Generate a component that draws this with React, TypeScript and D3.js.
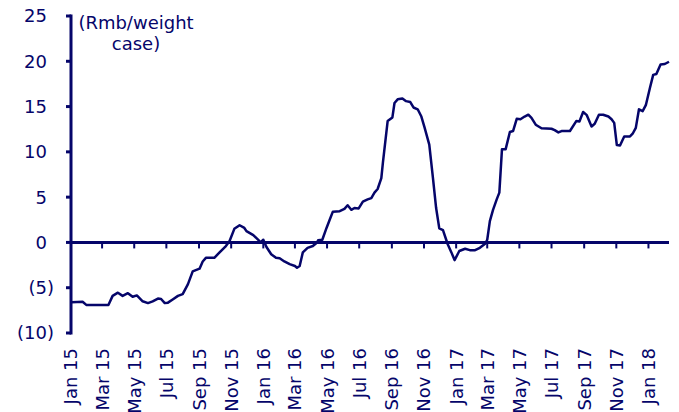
import React, { useEffect, useRef } from "react";
import * as d3 from "d3";

// weekly-ish observations, Rmb per weight case
const dates = [
  "2015-01-02", "2015-01-23", "2015-01-30", "2015-03-13", "2015-03-21", "2015-03-31",
  "2015-04-09", "2015-04-19", "2015-04-28", "2015-05-06", "2015-05-17", "2015-05-27",
  "2015-06-05", "2015-06-15", "2015-06-21", "2015-06-28", "2015-07-04", "2015-07-13",
  "2015-07-23", "2015-08-01", "2015-08-11", "2015-08-20", "2015-09-02", "2015-09-08",
  "2015-09-14", "2015-09-30", "2015-10-10", "2015-10-22", "2015-10-29", "2015-11-07",
  "2015-11-17", "2015-11-26", "2015-11-30", "2015-12-13", "2015-12-22", "2015-12-27",
  "2016-01-01", "2016-01-07", "2016-01-16", "2016-01-25", "2016-02-01", "2016-02-10",
  "2016-02-20", "2016-03-01", "2016-03-05", "2016-03-10", "2016-03-16", "2016-03-25",
  "2016-04-04", "2016-04-12", "2016-04-14", "2016-04-22", "2016-04-30", "2016-05-06",
  "2016-05-12", "2016-05-25", "2016-06-03", "2016-06-09", "2016-06-16", "2016-06-22",
  "2016-06-30", "2016-07-08", "2016-07-17", "2016-07-24", "2016-07-30", "2016-08-05",
  "2016-08-12", "2016-08-15", "2016-08-24", "2016-09-02", "2016-09-06", "2016-09-12",
  "2016-09-21", "2016-09-28", "2016-10-06", "2016-10-12", "2016-10-20", "2016-10-27",
  "2016-11-02", "2016-11-11", "2016-11-18", "2016-11-24", "2016-11-30", "2016-12-07",
  "2016-12-16", "2016-12-23", "2016-12-29", "2017-01-07", "2017-01-18", "2017-01-27",
  "2017-02-06", "2017-02-15", "2017-02-25", "2017-03-01", "2017-03-06", "2017-03-12",
  "2017-03-19", "2017-03-24", "2017-03-29", "2017-04-05", "2017-04-13", "2017-04-19",
  "2017-04-26", "2017-05-03", "2017-05-11", "2017-05-18", "2017-05-24", "2017-06-01",
  "2017-06-12", "2017-07-01", "2017-07-07", "2017-07-14", "2017-07-20", "2017-08-05",
  "2017-08-17", "2017-08-23", "2017-08-30", "2017-09-06", "2017-09-15", "2017-09-21",
  "2017-09-29", "2017-10-07", "2017-10-17", "2017-10-23", "2017-10-28", "2017-11-02",
  "2017-11-08", "2017-11-16", "2017-11-27", "2017-12-02", "2017-12-08", "2017-12-14",
  "2017-12-21", "2017-12-27", "2018-01-04", "2018-01-10", "2018-01-16", "2018-01-24",
  "2018-02-01", "2018-02-09",
];

const values = [
  -6.6, -6.55, -6.9, -6.9, -5.9, -5.55,
  -5.9, -5.6, -6.0, -5.85, -6.5, -6.7,
  -6.5, -6.2, -6.25, -6.7, -6.65, -6.3,
  -5.9, -5.7, -4.6, -3.2, -2.9, -2.1,
  -1.7, -1.7, -1.1, -0.4, 0.15, 1.5,
  1.9, 1.6, 1.25, 0.8, 0.3, 0.0,
  0.3, -0.5, -1.3, -1.7, -1.75, -2.1,
  -2.4, -2.6, -2.8, -2.6, -1.1, -0.6,
  -0.4, 0.0, 0.25, 0.3, 1.6, 2.5,
  3.4, 3.45, 3.7, 4.1, 3.6, 3.8,
  3.75, 4.5, 4.75, 4.9, 5.5, 5.9,
  7.1, 8.8, 13.4, 13.8, 15.4, 15.8,
  15.9, 15.6, 15.5, 14.9, 14.7, 13.9,
  12.7, 10.8, 7.1, 3.8, 1.55, 1.35,
  -0.2, -1.1, -1.95, -0.95, -0.7, -0.85,
  -0.85, -0.6, -0.15, 0.3, 2.35, 3.6,
  4.75, 5.5, 10.3, 10.3, 12.2, 12.3,
  13.65, 13.6, 13.9, 14.1, 13.75, 13.0,
  12.6, 12.55, 12.4, 12.15, 12.3, 12.3,
  13.4, 13.35, 14.4, 14.05, 12.8, 13.1,
  14.1, 14.1, 13.9, 13.6, 13.2, 10.75,
  10.7, 11.7, 11.7, 12.0, 12.65, 14.7,
  14.5, 15.15, 17.1, 18.5, 18.6, 19.65,
  19.7, 19.95,
];

const yTicks = [-10, -5, 0, 5, 10, 15, 20, 25];
const unitLabel = ["(Rmb/weight", "case)"];
const xStart = "2015-01-01";

const App = () => {
  const chartRef = useRef<SVGSVGElement | null>(null);

  useEffect(() => {
    drawChart();
  }, []);

  const drawChart = () => {
    const width = 679;
    const height = 412;
    const color = "#05056a";
    const font = "'DejaVu Sans', Verdana, sans-serif";
    const parseDate = d3.timeParse("%Y-%m-%d");

    const data = dates.map((d, i) => ({ date: parseDate(d) as Date, value: values[i] }));

    const svg = d3
      .select(chartRef.current)
      .attr("width", width)
      .attr("height", height);
    svg.selectAll("*").remove();

    const x = d3
      .scaleTime()
      .domain([parseDate(xStart) as Date, data[data.length - 1].date])
      .range([71, 669]);

    const y = d3.scaleLinear().domain([-10, 25]).range([333, 16]);

    // y axis: line, ticks, labels with negatives in brackets
    svg
      .append("line")
      .attr("x1", x.range()[0])
      .attr("x2", x.range()[0])
      .attr("y1", y(25) - 1.5)
      .attr("y2", y(-10) + 1.5)
      .attr("stroke", color)
      .attr("stroke-width", 3);

    const yAxis = svg.append("g");
    yAxis
      .selectAll("line")
      .data(yTicks)
      .join("line")
      .attr("x1", x.range()[0] - 5)
      .attr("x2", x.range()[0])
      .attr("y1", (d) => y(d))
      .attr("y2", (d) => y(d))
      .attr("stroke", color)
      .attr("stroke-width", 3);

    // excel-style format: the closing bracket hangs past the digits
    yAxis
      .selectAll("text")
      .data(yTicks)
      .join("text")
      .attr("x", (d) => (d < 0 ? 54 : 47))
      .attr("y", (d) => y(d))
      .attr("dy", "0.36em")
      .attr("text-anchor", "end")
      .attr("fill", color)
      .style("font-family", font)
      .style("font-size", "18px")
      .text((d) => (d < 0 ? `(${Math.abs(d)})` : `${d}`));

    // zero line acts as the category axis
    svg
      .append("line")
      .attr("x1", x.range()[0])
      .attr("x2", x.range()[1])
      .attr("y1", y(0))
      .attr("y2", y(0))
      .attr("stroke", color)
      .attr("stroke-width", 3);

    const monthTicks = x.ticks(d3.timeMonth.every(2) as d3.TimeInterval);

    svg
      .append("g")
      .selectAll("line")
      .data(monthTicks)
      .join("line")
      .attr("x1", (d) => x(d))
      .attr("x2", (d) => x(d))
      .attr("y1", y(0))
      .attr("y2", y(0) + 6)
      .attr("stroke", color)
      .attr("stroke-width", 2);

    svg
      .append("g")
      .selectAll("text")
      .data(monthTicks)
      .join("text")
      .attr("transform", (d) => `translate(${x(d)},348) rotate(-90)`)
      .attr("dy", "0.36em")
      .attr("text-anchor", "end")
      .attr("fill", color)
      .style("font-family", font)
      .style("font-size", "18px")
      .text((d) => d3.timeFormat("%b %y")(d));

    // unit label
    svg
      .append("text")
      .attr("x", 136)
      .attr("y", 29)
      .attr("text-anchor", "middle")
      .attr("fill", color)
      .style("font-family", font)
      .style("font-size", "18px")
      .selectAll("tspan")
      .data(unitLabel)
      .join("tspan")
      .attr("x", 136)
      .attr("dy", (d, i) => (i === 0 ? 0 : 21))
      .text((d) => d);

    const line = d3
      .line<{ date: Date; value: number }>()
      .x((d) => x(d.date))
      .y((d) => y(d.value));

    svg
      .append("path")
      .datum(data)
      .attr("fill", "none")
      .attr("stroke", color)
      .attr("stroke-width", 2.5)
      .attr("stroke-linejoin", "round")
      .attr("d", line);
  };

  return (
    <svg
      ref={chartRef}
      style={{ position: "absolute", left: 0, top: 0, background: "#fff" }}
    ></svg>
  );
};

export default App;
